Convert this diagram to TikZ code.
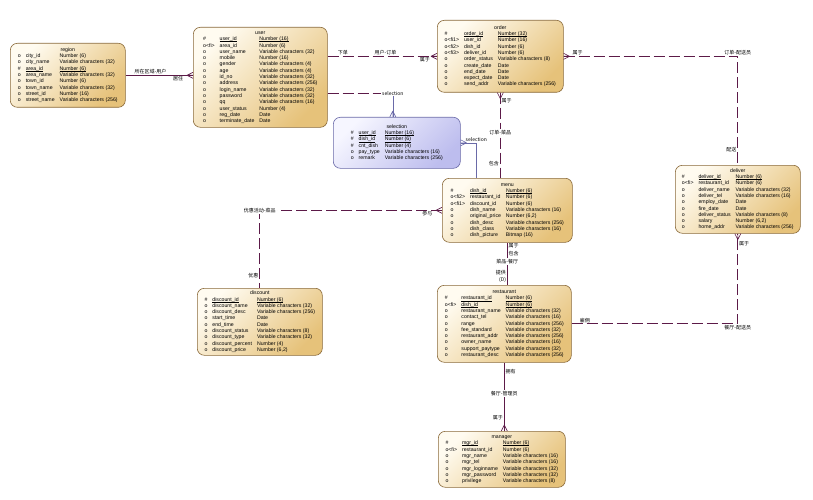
\documentclass[tikz,border=0pt]{standalone}
\usepackage{fontspec}
\setmainfont{Liberation Sans}
\newfontfamily\cjk{Noto Sans CJK SC}
\usetikzlibrary{positioning}

\definecolor{tabtop}{HTML}{FFFBF0}
\definecolor{tabbot}{HTML}{E6C27A}
\definecolor{tabline}{HTML}{8A6A3A}
\definecolor{seltop}{HTML}{F6F6FF}
\definecolor{selbot}{HTML}{BDBDEE}
\definecolor{selline}{HTML}{6A6AA8}
\definecolor{relcol}{HTML}{5C1A48}

\setlength{\tabcolsep}{2.5pt}
\newsavebox{\pkbox}
\newcommand{\pk}[1]{\sbox{\pkbox}{#1}\rlap{\rule[-1pt]{\wd\pkbox}{0.35pt}}\usebox{\pkbox}}
\newcommand{\tabfont}{\fontsize{5.2}{6.3}\selectfont}
\newcommand{\lblfont}{\cjk\fontsize{5}{6}\selectfont}
\newcommand{\crowfoot}[3][relcol]{%
  \begin{scope}[shift={#2}, rotate=#3]
    \draw[draw=#1, line width=0.6pt] (6,0) -- (0,3) (6,0) -- (0,0) (6,0) -- (0,-3);
  \end{scope}}

\begin{document}
\begin{tikzpicture}[x=1pt, y=-1pt,
  tbl/.style={draw=tabline, line width=0.6pt, rounded corners=7pt, top color=tabtop,
    bottom color=tabbot, shading angle=45, anchor=north west, inner sep=2pt, font=\tabfont},
  seltbl/.style={tbl, draw=selline, top color=seltop, bottom color=selbot, shading angle=45},
  rel/.style={draw=relcol, line width=0.7pt},
  opt/.style={rel, dash pattern=on 11pt off 4pt},
  sel/.style={draw=selline, line width=0.6pt},
  lbl/.style={font=\lblfont, inner sep=1pt},
  onl/.style={lbl, fill=white}]
\useasboundingbox[fill=white] (0,0) rectangle (813,500);

\node[tbl, minimum width=115pt, minimum height=64pt] (region) at (10,43) {\begin{tabular}{@{}lll@{}}
\multicolumn{3}{c}{region}\\
o & city\_id & Number (6)\\
o & city\_name & Variable characters (32)\\
\# & \pk{area\_id} & \pk{Number (6)}\\
o & area\_name & Variable characters (32)\\
o & town\_id & Number (6)\\
o & town\_name & Variable characters (32)\\
o & street\_id & Number (16)\\
o & street\_name & Variable characters (256)
\end{tabular}};

\node[tbl, minimum width=134pt, minimum height=100pt] (user) at (193,27) {\begin{tabular}{@{}lll@{}}
\multicolumn{3}{c}{user}\\
\# & \pk{user\_id} & \pk{Number (16)}\\
o<fi> & area\_id & Number (6)\\
o & user\_name & Variable characters (32)\\
o & mobile & Number (16)\\
o & gender & Variable characters (4)\\
o & age & Variable characters (4)\\
o & id\_no & Variable characters (32)\\
o & address & Variable characters (256)\\
o & login\_name & Variable characters (32)\\
o & password & Variable characters (32)\\
o & qq & Variable characters (16)\\
o & user\_status & Number (4)\\
o & reg\_date & Date\\
o & terminate\_date & Date
\end{tabular}};

\node[tbl, minimum width=126pt, minimum height=72pt] (order) at (437,20) {\begin{tabular}{@{}lll@{}}
\multicolumn{3}{c}{order}\\
\# & \pk{order\_id} & \pk{Number (32)}\\
o<fi1> & user\_id & Number (16)\\
o<fi2> & dish\_id & Number (6)\\
o<fi3> & deliver\_id & Number (6)\\
o & order\_status & Variable characters (8)\\
o & create\_date & Date\\
o & end\_date & Date\\
o & expect\_date & Date\\
o & send\_addr & Variable characters (256)
\end{tabular}};

\node[seltbl, minimum width=127pt, minimum height=51pt] (selection) at (333,117) {\begin{tabular}{@{}lll@{}}
\multicolumn{3}{c}{selection}\\
\# & \pk{user\_id} & \pk{Number (16)}\\
\# & \pk{dish\_id} & \pk{Number (6)}\\
\# & cnt\_dish & Number (4)\\
o & pay\_type & Variable characters (16)\\
o & remark & Variable characters (256)
\end{tabular}};

\node[tbl, minimum width=130pt, minimum height=64pt] (menu) at (442,178) {\begin{tabular}{@{}lll@{}}
\multicolumn{3}{c}{menu}\\
\# & \pk{dish\_id} & \pk{Number (6)}\\
o<fi2> & restaurant\_id & Number (6)\\
o<fi1> & discount\_id & Number (6)\\
o & dish\_name & Variable characters (16)\\
o & original\_price & Number (6,2)\\
o & dish\_desc & Variable characters (256)\\
o & dish\_class & Variable characters (16)\\
o & dish\_picture & Bitmap (16)
\end{tabular}};

\node[tbl, minimum width=125pt, minimum height=68pt] (deliver) at (675,165) {\begin{tabular}{@{}lll@{}}
\multicolumn{3}{c}{deliver}\\
\# & \pk{deliver\_id} & \pk{Number (6)}\\
o<fi> & restaurant\_id & Number (6)\\
o & deliver\_name & Variable characters (32)\\
o & deliver\_tel & Variable characters (16)\\
o & employ\_date & Date\\
o & fire\_date & Date\\
o & deliver\_status & Variable characters (8)\\
o & salary & Number (6,2)\\
o & home\_addr & Variable characters (256)
\end{tabular}};

\node[tbl, minimum width=125pt, minimum height=67pt] (discount) at (197,288) {\begin{tabular}{@{}lll@{}}
\multicolumn{3}{c}{discount}\\
\# & \pk{discount\_id} & \pk{Number (6)}\\
o & discount\_name & Variable characters (32)\\
o & discount\_desc & Variable characters (256)\\
o & start\_time & Date\\
o & end\_time & Date\\
o & discount\_status & Variable characters (8)\\
o & discount\_type & Variable characters (32)\\
o & discount\_percent & Number (4)\\
o & discount\_price & Number (6,2)
\end{tabular}};

\node[tbl, minimum width=134pt, minimum height=77pt] (restaurant) at (437,285) {\begin{tabular}{@{}lll@{}}
\multicolumn{3}{c}{restaurant}\\
\# & \pk{restaurant\_id} & \pk{Number (6)}\\
o<fi> & \pk{dish\_id} & \pk{Number (6)}\\
o & restaurant\_name & Variable characters (32)\\
o & contact\_tel & Variable characters (16)\\
o & range & Variable characters (256)\\
o & fee\_standard & Variable characters (32)\\
o & restaurant\_addr & Variable characters (256)\\
o & owner\_name & Variable characters (16)\\
o & support\_paytype & Variable characters (32)\\
o & restaurant\_desc & Variable characters (256)
\end{tabular}};

\node[tbl, minimum width=127pt, minimum height=56pt] (manager) at (438,431) {\begin{tabular}{@{}lll@{}}
\multicolumn{3}{c}{manager}\\
\# & \pk{mgr\_id} & \pk{Number (6)}\\
o<fi> & restaurant\_id & Number (6)\\
o & mgr\_name & Variable characters (16)\\
o & mgr\_tel & Variable characters (16)\\
o & mgr\_loginname & Variable characters (32)\\
o & mgr\_password & Variable characters (32)\\
o & privilege & Variable characters (8)
\end{tabular}};

% relationships
\draw[rel] (region.east) -- (region.east -| user.west)
  node[lbl, pos=0.37, above] {所在区域-用户}
  node[lbl, pos=0.78, below] {居住};
\crowfoot{(region.east -| user.west)}{180}

\draw[opt] (order.west -| user.east) -- (order.west)
  node[lbl, pos=0.14, above] {下单}
  node[lbl, pos=0.53, above] {用户-订单}
  node[lbl, pos=0.89, below] {属于};
\crowfoot{(order.west)}{180}

\coordinate (selt) at ([xshift=-4pt]selection.north);
\coordinate (usel) at ([yshift=-16pt]user.east -| selt);
\draw[opt] ([yshift=-16pt]user.east) -- (usel);
\draw[sel] (usel) -- (selt);
\node[onl] at (usel) {selection};
\crowfoot[selline]{(selt)}{90}

\draw[sel] (selection.east) -| ([xshift=-31pt]menu.north)
  node[lbl, pos=0.5, above] {selection};
\crowfoot[selline]{(selection.east)}{0}

\draw[opt] (order.south) -- (order.south |- menu.north)
  node[lbl, pos=0.09, right] {属于}
  node[onl, pos=0.47] {订单-菜品}
  node[lbl, pos=0.83, left] {包含};
\crowfoot{(order.south)}{270}

\draw[opt] (order.east) -| (deliver.north)
  node[lbl, pos=0.04, above] {属于}
  node[lbl, pos=0.5, above] {订单-配送员}
  node[lbl, pos=0.93, left] {配送};
\crowfoot{(order.east)}{0}

\draw[opt] (menu.west) -| (discount.north)
  node[lbl, pos=0.04, below] {参与}
  node[onl, pos=0.5] {优惠活动-菜品}
  node[lbl, pos=0.92, left] {优惠};
\crowfoot{(menu.west)}{180}

\draw[rel] (menu.south) -- (menu.south |- restaurant.north)
  node[lbl, pos=0.08, right] {属于}
  node[lbl, pos=0.27, right] {包含}
  node[onl, pos=0.44] {菜品-餐厅}
  node[lbl, pos=0.7, left] {提供}
  node[lbl, pos=0.88, left] {(D)};

\draw[opt] (restaurant.east) -| (deliver.south)
  node[lbl, pos=0.04, above] {雇佣}
  node[lbl, pos=0.5, below] {餐厅-配送员}
  node[lbl, pos=0.945, right] {属于};
\crowfoot{(deliver.south)}{270}

\draw[rel] (restaurant.south) -- (restaurant.south |- manager.north)
  node[lbl, pos=0.13, right] {拥有}
  node[onl, pos=0.45] {餐厅-管理员}
  node[lbl, pos=0.81, left] {属于};
\crowfoot{(restaurant.south |- manager.north)}{90}
\end{tikzpicture}
\end{document}
